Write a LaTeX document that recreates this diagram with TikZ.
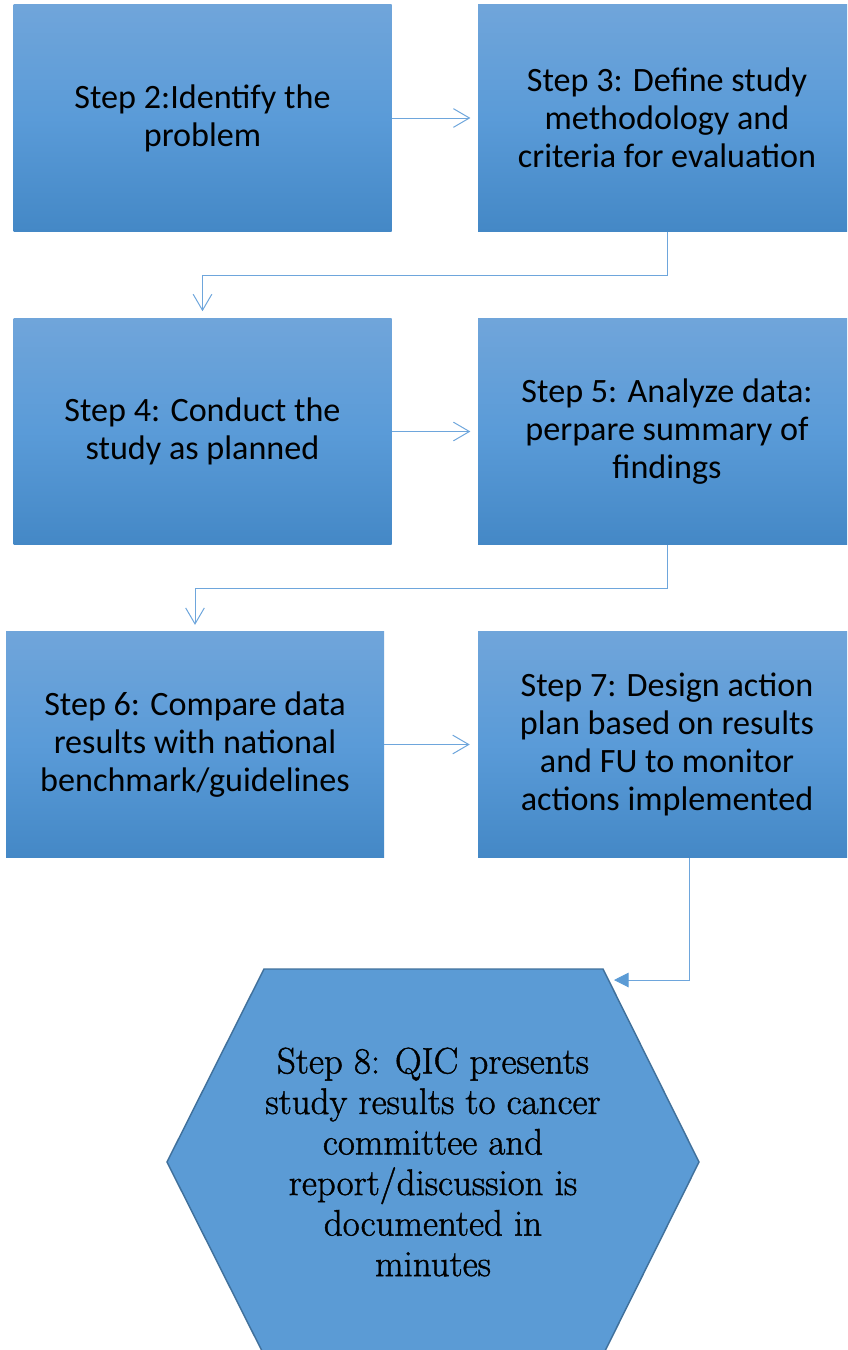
\documentclass[tikz,border=0pt]{standalone}
\usepackage{fontspec}
\setmainfont{Carlito}
\newfontfamily\hexfont[RawFeature={embolden=1.2}]{Latin Modern Roman}
\usetikzlibrary{calc,arrows.meta}
\definecolor{boxtop}{HTML}{70A5DA}
\definecolor{boxmid}{HTML}{5A9BD8}
\definecolor{boxbot}{HTML}{4488C6}
\definecolor{linkblue}{HTML}{6EA6DC}
\definecolor{hexfill}{HTML}{5B9BD5}
\definecolor{hexline}{HTML}{41719C}
\tikzset{
	stepbox/.style={rectangle, top color=boxtop, bottom color=boxbot, middle color=boxmid,
		minimum width=283.5pt, minimum height=170pt, inner sep=0pt, align=center,
		font=\fontsize{25.6}{28.5}\selectfont},
	link/.style={draw=linkblue, line width=0.75pt, -{Straight Barb[length=12pt,width=14pt]}},
}

\begin{document}
\begin{tikzpicture}[x=0.75pt, y=-0.75pt]
		%%%%% START %%%%%
		\useasboundingbox (0,0) rectangle (847,1350);
		\clip (0,0) rectangle (847,1350);
		
		\node[stepbox] (nA) at (202.5, 118) {Step 2:Identify the\\problem};
		\node[stepbox] (nB) at (667, 118) {Step 3: Define study\\methodology and\\criteria for evaluation};
		\node[stepbox] (nC) at (202.5, 431.5) {Step 4: Conduct the\\study as planned};
		\node[stepbox] (nD) at (667, 431.5) {Step 5: Analyze data:\\perpare summary of\\findings};
		\node[stepbox] (nE) at (195, 744.5) {Step 6: Compare data\\results with national\\benchmark/guidelines};
		\node[stepbox] (nF) at (667, 744.5) {Step 7: Design action\\plan based on results\\and FU to monitor\\actions implemented};
		
		% hexagon
		\draw[fill=hexfill, draw=hexline, line width=1.1pt] (264, 969) -- (603, 969) -- (699, 1162) -- (603, 1355) -- (264, 1355) -- (167, 1162) -- cycle;
		\node[align=center, font=\hexfont\fontsize{27.7}{30.4}\selectfont] (nH) at (433, 1162) {Step 8: QIC presents\\study results to cancer\\committee and\\report/discussion is\\documented in\\minutes};
		
		\draw[link, shorten >=5.5pt] (nA.east) -- (nB.west);
		\draw[link, shorten >=5pt] (nB.south) -- ++(0, 44) -| (nC.north);
		\draw[link, shorten >=5.5pt] (nC.east) -- (nD.west);
		\draw[link, shorten >=4.5pt] (nD.south) -- ++(0, 43) -| (nE.north);
		\draw[link, shorten >=6pt] (nE.east) -- (nF.west);
		
		\coordinate (hexin) at (614, 980);
		\draw[draw=linkblue, line width=0.75pt, -{Triangle[length=11pt,width=11pt,color=hexfill]}] ($(nF.south)+(22,0)$) |- (hexin);
		%%%%% END %%%%%
	\end{tikzpicture}
\end{document}
